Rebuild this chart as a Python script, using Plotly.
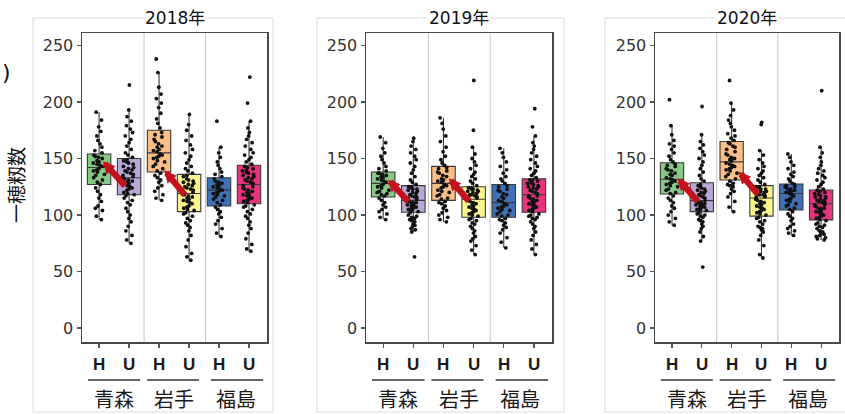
import plotly.graph_objects as go

# ---------------- data ----------------
years = ["2018年", "2019年", "2020年"]
prefs = ["青森", "岩手", "福島"]
sub_labels = ["H", "U", "H", "U", "H", "U"]
positions = [1, 2, 3, 4, 5, 6]
box_fill = ["#86c986", "#b9a8d6", "#fbbf85", "#fbf58f", "#3f6fb5", "#e8337f"]

# box statistics (q1, median, q3, lower whisker, upper whisker) per year
q1_2018 = [127, 118, 138, 103, 108, 110]
med_2018 = [142, 133, 155, 119, 122, 127]
q3_2018 = [154, 150, 175, 136, 133, 144]
lo_2018 = [96, 75, 113, 60, 81, 68]
hi_2018 = [191, 193, 226, 189, 160, 183]

q1_2019 = [116, 102.5, 113, 98, 98, 102.5]
med_2019 = [128, 113, 128, 114, 111, 118]
q3_2019 = [138, 126, 143, 125, 127, 132]
lo_2019 = [96, 85, 94, 65, 71, 65]
hi_2019 = [169, 168, 186, 160, 159, 170]

q1_2020 = [118.6, 103, 131, 99, 104.5, 95.7]
med_2020 = [131.6, 112.7, 147, 115, 119, 110]
q3_2020 = [146.3, 128.6, 165, 126, 127.5, 122.2]
lo_2020 = [91, 77, 103, 62, 82, 78]
hi_2020 = [179, 171, 199, 157, 154, 160]

# individual spikelet counts per plot
pts_2018 = [
    [96, 99, 104, 106, 108, 112, 115, 118, 121, 124, 127, 129, 131, 133, 135, 136, 138, 139, 140, 141,
     143, 144, 145, 146, 147, 148, 150, 151, 152, 153, 155, 157, 160, 163, 166, 170, 174, 178, 184, 191],
    [75, 78, 82, 86, 90, 94, 97, 100, 103, 106, 109, 111, 113, 115, 117, 118, 119, 120, 122, 123,
     124, 125, 126, 127, 128, 129, 130, 131, 132, 133, 134, 135, 136, 137, 138, 139, 140, 141, 142, 143,
     145, 146, 147, 148, 149, 151, 153, 155, 158, 161, 164, 167, 170, 173, 176, 179, 183, 187, 193, 215],
    [113, 115, 118, 121, 124, 126, 129, 131, 133, 135, 137, 139, 141, 143, 145, 147, 148, 150, 151, 152,
     153, 154, 156, 157, 158, 160, 161, 163, 165, 167, 169, 171, 173, 177, 181, 185, 190, 195, 199, 203,
     207, 213, 226, 238],
    [60, 63, 66, 72, 78, 82, 86, 89, 91, 93, 95, 97, 99, 101, 102, 104, 105, 106, 107, 108,
     110, 111, 112, 113, 114, 115, 116, 117, 118, 119, 120, 121, 122, 123, 124, 125, 126, 127, 128, 129,
     130, 131, 132, 134, 135, 137, 139, 141, 143, 146, 149, 152, 155, 158, 162, 166, 170, 175, 180, 189],
    [81, 84, 88, 92, 95, 98, 101, 103, 105, 107, 109, 111, 113, 114, 116, 117, 118, 119, 120, 121,
     122, 123, 124, 125, 126, 127, 128, 129, 130, 132, 134, 136, 138, 141, 144, 147, 151, 155, 160, 183],
    [68, 70, 74, 79, 84, 88, 91, 94, 97, 99, 101, 103, 105, 107, 108, 109, 111, 112, 113, 114,
     115, 116, 117, 118, 119, 120, 121, 122, 123, 124, 125, 126, 128, 129, 130, 131, 132, 133, 134, 135,
     136, 137, 138, 139, 140, 141, 142, 143, 145, 147, 149, 151, 153, 155, 158, 161, 164, 167, 170, 173,
     177, 183, 199, 222],
]
pts_2019 = [
    [96, 98, 101, 103, 105, 107, 109, 111, 113, 115, 117, 118, 119, 120, 121, 122, 124, 125, 126, 127,
     129, 130, 131, 132, 133, 134, 135, 136, 137, 137, 139, 141, 143, 146, 149, 152, 155, 159, 164, 169],
    [63, 85, 87, 88, 90, 91, 92, 94, 95, 96, 97, 98, 99, 100, 102, 103, 104, 105, 106, 106,
     107, 108, 108, 109, 110, 110, 111, 111, 112, 113, 114, 115, 116, 116, 117, 118, 119, 120, 121, 122,
     123, 123, 124, 125, 125, 127, 129, 131, 134, 137, 140, 143, 146, 149, 152, 155, 158, 161, 165, 168],
    [94, 96, 98, 100, 102, 104, 106, 108, 110, 111, 112, 114, 115, 117, 118, 120, 121, 122, 124, 125,
     126, 127, 129, 130, 131, 132, 134, 135, 137, 138, 139, 141, 142, 144, 146, 149, 152, 156, 160, 165,
     170, 176, 181, 186],
    [65, 69, 73, 77, 79, 81, 84, 86, 88, 90, 92, 93, 95, 96, 97, 99, 100, 101, 102, 103,
     104, 105, 106, 107, 108, 109, 110, 111, 112, 113, 115, 116, 116, 117, 118, 118, 119, 120, 121, 121,
     122, 123, 123, 124, 124, 126, 128, 130, 132, 134, 136, 138, 141, 144, 147, 150, 154, 160, 175, 219],
    [71, 76, 80, 84, 87, 89, 91, 93, 95, 96, 97, 99, 100, 101, 103, 104, 105, 106, 107, 108,
     109, 110, 112, 113, 115, 116, 118, 119, 121, 122, 123, 125, 126, 128, 130, 132, 134, 137, 140, 143,
     147, 151, 155, 159],
    [65, 70, 74, 78, 82, 85, 88, 90, 92, 94, 96, 97, 98, 99, 100, 101, 103, 104, 105, 106,
     107, 108, 109, 110, 111, 112, 113, 114, 115, 116, 117, 117, 119, 120, 121, 122, 123, 124, 125, 125,
     126, 127, 128, 128, 129, 130, 131, 131, 133, 135, 137, 139, 141, 143, 146, 149, 152, 155, 158, 161,
     164, 170, 178, 194],
]
pts_2020 = [
    [91, 94, 97, 100, 103, 106, 108, 111, 113, 115, 117, 119, 120, 122, 123, 125, 126, 127, 128, 129,
     130, 131, 132, 133, 135, 136, 137, 139, 140, 141, 143, 144, 145, 147, 149, 152, 155, 158, 161, 163,
     166, 171, 179, 202],
    [54, 77, 81, 85, 88, 90, 92, 94, 95, 96, 98, 99, 100, 101, 102, 104, 105, 105, 106, 107,
     107, 108, 108, 109, 109, 110, 110, 111, 111, 112, 113, 114, 115, 116, 117, 118, 119, 120, 121, 122,
     123, 124, 125, 126, 127, 130, 132, 135, 138, 141, 144, 147, 150, 153, 156, 159, 162, 165, 171, 196],
    [103, 107, 112, 116, 119, 121, 123, 125, 126, 127, 128, 130, 132, 134, 136, 137, 139, 140, 141, 142,
     143, 144, 145, 146, 148, 149, 150, 151, 153, 154, 156, 158, 160, 161, 163, 164, 166, 168, 170, 172,
     175, 178, 181, 184, 188, 193, 199, 219],
    [62, 65, 73, 78, 82, 85, 87, 88, 89, 90, 92, 94, 95, 97, 98, 100, 101, 102, 103, 104,
     105, 106, 107, 108, 109, 110, 111, 112, 113, 114, 116, 116, 117, 118, 118, 119, 120, 121, 121, 122,
     123, 123, 124, 125, 125, 127, 129, 131, 133, 135, 137, 139, 141, 143, 146, 149, 153, 157, 180, 182],
    [82, 84, 86, 88, 90, 92, 95, 97, 99, 101, 103, 105, 106, 108, 109, 110, 112, 113, 114, 115,
     117, 118, 119, 120, 121, 122, 122, 123, 124, 125, 125, 126, 127, 128, 130, 132, 134, 136, 138, 141,
     144, 147, 151, 154],
    [78, 79, 80, 81, 82, 83, 84, 85, 86, 88, 89, 90, 91, 92, 93, 95, 96, 97, 98, 99,
     100, 101, 102, 103, 104, 105, 106, 106, 107, 108, 109, 109, 111, 111, 112, 113, 113, 114, 115, 116,
     116, 117, 118, 119, 119, 120, 121, 122, 123, 125, 127, 129, 131, 133, 135, 137, 139, 141, 144, 147,
     151, 155, 160, 210],
]

# arrows (head x, head y, tail x, tail y) for 青森 and 岩手
arrows_2018 = [(1.13, 147.5, 1.91, 124.5), (3.18, 139.5, 3.9, 116.5)]
arrows_2019 = [(1.16, 131.5, 1.88, 110.5), (3.18, 132.5, 3.89, 111)]
arrows_2020 = [(1.19, 132.5, 1.91, 110.5), (3.24, 138.5, 3.92, 117)]

yticks = [0, 50, 100, 150, 200, 250]
y_title = "一穂籾数"

stats = [
    (q1_2018, med_2018, q3_2018, lo_2018, hi_2018),
    (q1_2019, med_2019, q3_2019, lo_2019, hi_2019),
    (q1_2020, med_2020, q3_2020, lo_2020, hi_2020),
]
points = [pts_2018, pts_2019, pts_2020]
arrows = [arrows_2018, arrows_2019, arrows_2020]

# ---------------- layout geometry ----------------
W, H = 845, 414
panel_px = [(82, 267), (366, 552), (655, 839)]
outer_px = [(33, 273), (317, 564), (605, 850)]
y_top_px, y_bot_px = 33, 342
dividers = [2.5, 4.55]
group_centers = [1.5, 3.5, 5.55]
group_lines = [(0.63, 2.37), (2.6, 4.33), (4.73, 6.47)]

num_font = "DejaVu Sans, Liberation Sans, Arial"
cjk_font = "Noto Sans CJK JP, Noto Sans CJK SC, sans-serif"

fig = go.Figure()
annotations = []
shapes = []

for k in range(3):
    ax = "" if k == 0 else str(k + 1)
    xr, yr = "x" + ax, "y" + ax
    q1, med, q3, lo, hi = stats[k]
    for i in range(6):
        fig.add_trace(go.Box(
            x=[positions[i]], q1=[q1[i]], median=[med[i]], q3=[q3[i]],
            lowerfence=[lo[i]], upperfence=[hi[i]],
            width=0.78, whiskerwidth=0,
            fillcolor=box_fill[i], line=dict(color="#3a3a3a", width=1.1),
            boxpoints=False, showlegend=False, hoverinfo="skip",
            xaxis=xr, yaxis=yr,
        ))
    for i in range(6):
        vals = points[k][i]
        fig.add_trace(go.Box(
            x=[positions[i]] * len(vals), y=vals,
            width=0.78, boxpoints="all", jitter=0.6, pointpos=0,
            fillcolor="rgba(0,0,0,0)", line=dict(color="rgba(0,0,0,0)", width=0),
            marker=dict(color="#111111", size=3.8),
            showlegend=False, hoverinfo="skip",
            xaxis=xr, yaxis=yr,
        ))
    # arrows
    for (hx, hy, tx, ty) in arrows[k]:
        annotations.append(dict(
            x=hx, y=hy, ax=tx, ay=ty, xref=xr, yref=yr, axref=xr, ayref=yr,
            showarrow=True, arrowhead=2, arrowsize=0.38, arrowwidth=6.3,
            arrowcolor="#c4121c", text="", standoff=0,
        ))
    # panel title
    annotations.append(dict(
        x=0.5, y=1 - 18 / H, xref=xr + " domain", yref="paper",
        text=years[k], showarrow=False, bgcolor="white",
        font=dict(size=17, color="#111", family=num_font + ", " + cjk_font),
        xanchor="center", yanchor="middle",
    ))
    # H/U labels
    for i in range(6):
        annotations.append(dict(
            x=positions[i], y=1 - 364 / H, xref=xr, yref="paper",
            text="<b>" + sub_labels[i] + "</b>", showarrow=False,
            font=dict(size=17, color="#1a1a1a", family="Liberation Sans, Arial"),
            xanchor="center", yanchor="middle",
        ))
    # group labels + lines
    for g in range(3):
        annotations.append(dict(
            x=group_centers[g], y=1 - 398 / H, xref=xr, yref="paper",
            text=prefs[g], showarrow=False,
            font=dict(size=20, color="#1a1a1a", family=cjk_font),
            xanchor="center", yanchor="middle",
        ))
        shapes.append(dict(
            type="line", xref=xr, yref="paper",
            x0=group_lines[g][0], x1=group_lines[g][1],
            y0=1 - 380 / H, y1=1 - 380 / H,
            line=dict(color="#333", width=1.5),
        ))
    # dividers
    for d in dividers:
        shapes.append(dict(
            type="line", xref=xr, yref=yr + " domain",
            x0=d, x1=d, y0=0, y1=1, line=dict(color="#c4c4c4", width=1),
            layer="below",
        ))
    # outer faint frame
    shapes.append(dict(
        type="rect", xref="paper", yref="paper",
        x0=outer_px[k][0] / W, x1=outer_px[k][1] / W,
        y0=1 - 412 / H, y1=1 - 18 / H,
        line=dict(color="#dcdcdc", width=1), layer="below",
    ))

    xdom = [panel_px[k][0] / W, panel_px[k][1] / W]
    ydom = [1 - y_bot_px / H, 1 - y_top_px / H]
    xa = dict(domain=xdom, range=[0.43, 6.6], anchor=yr,
              tickvals=positions, ticktext=[""] * 6, ticks="outside",
              ticklen=4, tickcolor="#555", tickwidth=1.2,
              showgrid=False, zeroline=False, showline=True, mirror=True,
              linecolor="#4a4a4a", linewidth=1.5, fixedrange=True)
    ya = dict(domain=ydom, range=[-12.3, 261], anchor=xr,
              tickvals=yticks, ticks="outside", ticklen=4, tickcolor="#555",
              tickwidth=1.2, tickfont=dict(size=16, color="#333", family=num_font),
              showgrid=False, zeroline=False, showline=True, mirror=True,
              linecolor="#4a4a4a", linewidth=1.5, fixedrange=True)
    fig.layout["xaxis" + ax] = xa
    fig.layout["yaxis" + ax] = ya

# y-axis title
annotations.append(dict(
    x=15 / W, y=1 - 185 / H, xref="paper", yref="paper", text=y_title,
    textangle=-90, showarrow=False,
    font=dict(size=19, color="#111", family=cjk_font),
    xanchor="center", yanchor="middle",
))
# panel marker at left edge
annotations.append(dict(
    x=0, y=1 - 72 / H, xref="paper", yref="paper", text=")",
    showarrow=False, font=dict(size=22, color="#111", family=num_font),
    xanchor="left", yanchor="middle",
))

fig.update_layout(
    width=W, height=H, margin=dict(l=0, r=0, t=0, b=0),
    paper_bgcolor="white", plot_bgcolor="white",
    boxmode="overlay", showlegend=False,
    annotations=annotations, shapes=shapes,
)

fig.write_html(
    "out.html",
    config={"displayModeBar": False, "staticPlot": True},
    post_script="document.body.style.margin='0px';document.body.style.padding='0px';document.body.style.overflow='hidden';",
)
